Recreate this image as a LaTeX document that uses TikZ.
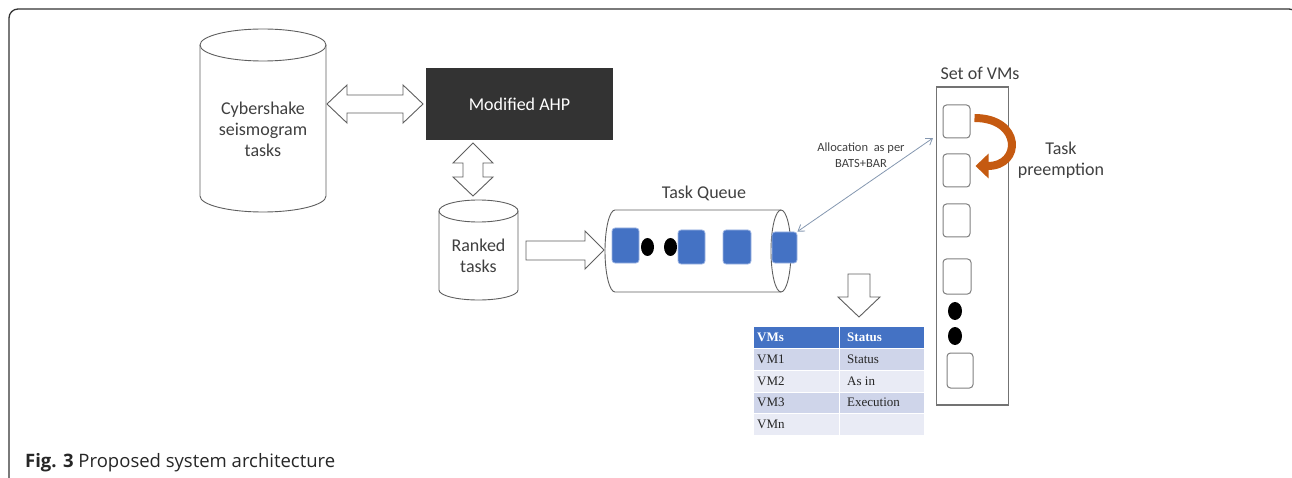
\documentclass[tikz,border=0pt]{standalone}
\usepackage{fontspec}
\setmainfont{Carlito}
\newfontfamily\capfont{Open Sans}
\newfontfamily\tabfont{Liberation Serif}
\usetikzlibrary{arrows.meta,calc}

\definecolor{ink}{HTML}{404040}
\definecolor{edge}{HTML}{5F5F5F}
\definecolor{ahpfill}{HTML}{333333}
\definecolor{qblue}{HTML}{4472C4}
\definecolor{qedge}{HTML}{9DB5E3}
\definecolor{rowA}{HTML}{CFD5EA}
\definecolor{rowB}{HTML}{E9EBF5}
\definecolor{alloccol}{HTML}{8497B0}
\definecolor{preemptcol}{HTML}{C55A11}

\tikzset{
  frame/.style={draw=black!80, line width=1.3, rounded corners=9},
  outl/.style={draw=edge, line width=0.9, fill=white, line join=miter},
  cyl/.style={draw=edge, line width=0.9},
  lbl/.style={font=\fontsize{18}{21}\selectfont, text=ink, align=center, inner sep=0},
  small/.style={font=\fontsize{12.5}{16}\selectfont, text=ink, align=center, inner sep=0},
  ahpbox/.style={fill=ahpfill, minimum width=187, minimum height=72, inner sep=0,
                 text=white, font=\fontsize{18}{21}\selectfont},
  task/.style={draw=qedge, fill=qblue, line width=0.8, rounded corners=3,
               minimum width=27, minimum height=34, inner sep=0},
  vm/.style={draw=black!50, fill=white, line width=1, rounded corners=3.5,
             minimum width=27, minimum height=33, inner sep=0},
  vmset/.style={draw=black!55, line width=1.3, minimum width=72, minimum height=318, inner sep=0},
  alloc/.style={draw=alloccol, line width=0.8, {Straight Barb[length=6,width=8]}-{Straight Barb[length=6,width=8]}},
  preempt/.style={draw=preemptcol, line width=8, -{Triangle[length=13pt,width=24pt]}},
  cell/.style={font=\tabfont\fontsize{13}{15}\selectfont, text=black!85, anchor=west, inner sep=0},
  head/.style={cell, text=white, font=\tabfont\bfseries\fontsize{13}{15}\selectfont},
}

\begin{document}
\begin{tikzpicture}[x=1pt, y=-1pt]
\useasboundingbox (0,0) rectangle (1292,478);
\clip (0,0) rectangle (1292,478);

% outer frame
\draw[frame] (9,490) -- (9,9) -- (1298,9) -- (1298,490);

% large store of seismogram tasks
\draw[cyl, fill=white] (200,45) -- (200,196) arc[start angle=180, end angle=360, x radius=63pt, y radius=16pt] -- (326,45);
\draw[cyl] (263,45) ellipse[x radius=63pt, y radius=16pt];
\node[lbl] (cyber) at (263,129) {Cybershake\\seismogram\\tasks};

% ranking block
\node[ahpbox] (ahp) at (519.5,104) {Modified AHP};

% store of ranked tasks
\draw[cyl, fill=white] (439,211) -- (439,290) arc[start angle=180, end angle=360, x radius=39.5pt, y radius=10pt] -- (518,211);
\draw[cyl] (478.5,211) ellipse[x radius=39.5pt, y radius=11pt];
\node[lbl] (ranked) at (478.5,256) {Ranked\\tasks};

% block arrows
\draw[outl] (327,104) -- (347,85) -- (347,95) -- (403,95) -- (403,85) -- (423,104)
  -- (403,123) -- (403,113) -- (347,113) -- (347,123) -- cycle;
\draw[outl] (473,143) -- (493,163) -- (483,163) -- (483,177) -- (493,177) -- (473,196)
  -- (453,177) -- (463,177) -- (463,163) -- (453,163) -- cycle;
\draw[outl] (526,241) -- (585,241) -- (585,231) -- (604,250) -- (585,269) -- (585,260)
  -- (526,260) -- cycle;
\draw[outl] (848,274) -- (870,274) -- (870,297) -- (880,297) -- (859,317) -- (838,297)
  -- (848,297) -- cycle;

% task queue
\node[lbl] (tq) at (704,193) {Task Queue};
\draw[cyl] (781,210) -- (615,210) arc[start angle=90, end angle=270, x radius=10pt, y radius=41pt] -- (781,292);
\draw[cyl] (781,251) ellipse[x radius=10pt, y radius=41pt];
\node[task, minimum height=35] (q1) at (625.5,245.5) {};
\node[task] (q2) at (691.5,247) {};
\node[task, minimum width=28] (q3) at (737,247) {};
\node[task, minimum width=25, minimum height=31] (q4) at (784.5,247.5) {};
\fill (647.5,247) ellipse[x radius=6.5pt, y radius=9pt];
\fill (670.5,247) ellipse[x radius=6.5pt, y radius=9pt];

% set of virtual machines
\node[lbl] (setlbl) at (980,73) {Set of VMs};
\node[vmset] (vms) at (972.5,246) {};
\node[vm] (v1) at (956.5,121.5) {};
\node[vm] (v2) at (956.5,170.5) {};
\node[vm] (v3) at (956.5,220.5) {};
\node[vm, minimum width=28, minimum height=35] (v4) at (957,276.5) {};
\node[vm, minimum width=26, minimum height=35] (v5) at (960,370.5) {};
\fill (955,311) ellipse[x radius=7pt, y radius=9pt];
\fill (955,336) ellipse[x radius=7pt, y radius=9pt];

% preemption between machines
\draw[preempt] ([xshift=4pt, yshift=3.5pt]v1.east) .. controls (1022,118) and (1022,166) .. ([xshift=5pt, yshift=4.5pt]v2.east);
\node[lbl] (prelbl) at (1061,160) {Task\\preemption};

% allocation link
\coordinate (alloctip) at (933,138);
\draw[alloc] (q4.north east) -- (alloctip);
\node[small] (alloclbl) at (861,155) {Allocation\ \ as per\\BATS+BAR};

% status table
\fill[qblue] (754,327) rectangle (924,348);
\fill[rowA] (754,348) rectangle (924,370);
\fill[rowB] (754,370) rectangle (924,392);
\fill[rowA] (754,392) rectangle (924,413);
\fill[rowB] (754,413) rectangle (924,435);
\draw[white, line width=1] (839,327) -- (839,435);
\foreach \yy in {348,370,392,413} \draw[white, line width=0.8] (754,\yy) -- (924,\yy);
\node[head] (h1) at (757,337.5) {VMs};
\node[head] (h2) at (847,337.5) {Status};
\node[cell] (c11) at (757,359) {VM1};
\node[cell] (c12) at (847,359) {Status};
\node[cell] (c21) at (757,381) {VM2};
\node[cell] (c22) at (847,381) {As in};
\node[cell] (c31) at (757,402.5) {VM3};
\node[cell] (c32) at (847,402.5) {Execution};
\node[cell] (c41) at (757,424) {VMn};

% caption
\node[anchor=west, inner sep=0, font=\capfont\fontsize{18.5}{21}\selectfont, text=black!85] (cap) at (25,463)
  {\textbf{Fig. 3} Proposed system architecture};
\end{tikzpicture}
\end{document}
